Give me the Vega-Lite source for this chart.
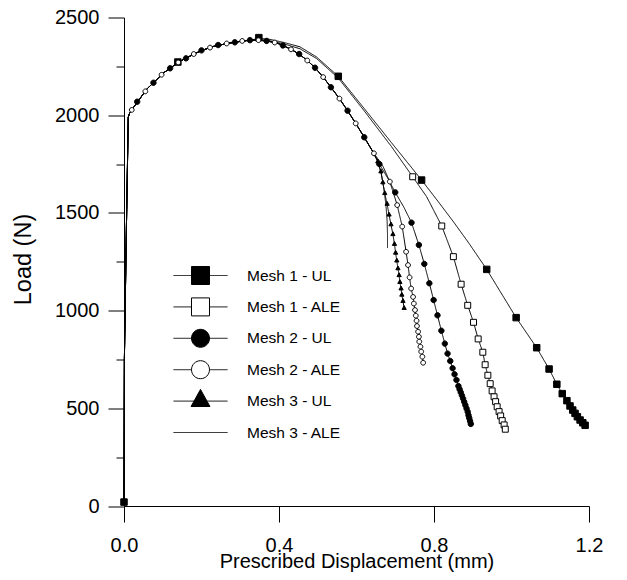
{
  "$schema": "https://vega.github.io/schema/vega-lite/v6.json",
  "width": 465,
  "height": 488.5,
  "autosize": {"type": "none"},
  "padding": {"left": 124, "top": 17.5, "right": 38, "bottom": 74},
  "background": "white",
  "config": {
    "view": {"stroke": null},
    "font": "Liberation Sans",
    "axis": {
      "grid": false,
      "domainColor": "black",
      "tickColor": "black",
      "labelColor": "black",
      "titleColor": "black",
      "labelFont": "Liberation Sans",
      "titleFont": "Liberation Sans",
      "labelFontSize": 20,
      "titleFontSize": 20,
      "titleFontWeight": "normal",
      "domainWidth": 1,
      "tickWidth": 1,
      "ticks": true,
      "labelFlush": false,
      "labelOverlap": false
    },
    "legend": {
      "labelFont": "Liberation Sans",
      "labelFontSize": 15.5,
      "labelColor": "black",
      "padding": 0
    }
  },
  "resolve": {"axis": {"y": "independent"}},
  "datasets": {
    "lines": [
      {"s":"Mesh 1 - UL","x":0,"y":20},{"s":"Mesh 1 - UL","x":0.001,"y":750},{"s":"Mesh 1 - UL","x":0.006,"y":1400},{"s":"Mesh 1 - UL","x":0.011,"y":1990},{"s":"Mesh 1 - UL","x":0.014,"y":2008},{"s":"Mesh 1 - UL","x":0.02,"y":2027},{"s":"Mesh 1 - UL","x":0.037,"y":2074},{"s":"Mesh 1 - UL","x":0.06,"y":2136},{"s":"Mesh 1 - UL","x":0.078,"y":2170},{"s":"Mesh 1 - UL","x":0.103,"y":2218},{"s":"Mesh 1 - UL","x":0.119,"y":2240},{"s":"Mesh 1 - UL","x":0.139,"y":2270},{"s":"Mesh 1 - UL","x":0.162,"y":2294},{"s":"Mesh 1 - UL","x":0.188,"y":2320},{"s":"Mesh 1 - UL","x":0.209,"y":2337},{"s":"Mesh 1 - UL","x":0.231,"y":2352},{"s":"Mesh 1 - UL","x":0.269,"y":2368},{"s":"Mesh 1 - UL","x":0.291,"y":2375},{"s":"Mesh 1 - UL","x":0.317,"y":2382},{"s":"Mesh 1 - UL","x":0.348,"y":2392},{"s":"Mesh 1 - UL","x":0.372,"y":2390},{"s":"Mesh 1 - UL","x":0.411,"y":2373},{"s":"Mesh 1 - UL","x":0.454,"y":2350},{"s":"Mesh 1 - UL","x":0.497,"y":2298},{"s":"Mesh 1 - UL","x":0.553,"y":2199},{"s":"Mesh 1 - UL","x":0.62,"y":2034},{"s":"Mesh 1 - UL","x":0.69,"y":1860},{"s":"Mesh 1 - UL","x":0.768,"y":1668},{"s":"Mesh 1 - UL","x":0.81,"y":1560},{"s":"Mesh 1 - UL","x":0.85,"y":1455},{"s":"Mesh 1 - UL","x":0.89,"y":1345},{"s":"Mesh 1 - UL","x":0.936,"y":1211},{"s":"Mesh 1 - UL","x":1.012,"y":964},{"s":"Mesh 1 - UL","x":1.065,"y":810},{"s":"Mesh 1 - UL","x":1.097,"y":701},{"s":"Mesh 1 - UL","x":1.117,"y":623},{"s":"Mesh 1 - UL","x":1.131,"y":575},{"s":"Mesh 1 - UL","x":1.143,"y":539},{"s":"Mesh 1 - UL","x":1.151,"y":512},{"s":"Mesh 1 - UL","x":1.158,"y":491},{"s":"Mesh 1 - UL","x":1.164,"y":474},{"s":"Mesh 1 - UL","x":1.17,"y":457},{"s":"Mesh 1 - UL","x":1.177,"y":440},{"s":"Mesh 1 - UL","x":1.184,"y":426},{"s":"Mesh 1 - UL","x":1.19,"y":413},

      {"s":"Mesh 1 - ALE","x":0,"y":20},{"s":"Mesh 1 - ALE","x":0.001,"y":750},{"s":"Mesh 1 - ALE","x":0.006,"y":1400},{"s":"Mesh 1 - ALE","x":0.011,"y":1990},{"s":"Mesh 1 - ALE","x":0.014,"y":2008},{"s":"Mesh 1 - ALE","x":0.02,"y":2027},{"s":"Mesh 1 - ALE","x":0.037,"y":2074},{"s":"Mesh 1 - ALE","x":0.06,"y":2136},{"s":"Mesh 1 - ALE","x":0.078,"y":2170},{"s":"Mesh 1 - ALE","x":0.103,"y":2218},{"s":"Mesh 1 - ALE","x":0.119,"y":2240},{"s":"Mesh 1 - ALE","x":0.139,"y":2270},{"s":"Mesh 1 - ALE","x":0.162,"y":2294},{"s":"Mesh 1 - ALE","x":0.188,"y":2320},{"s":"Mesh 1 - ALE","x":0.209,"y":2337},{"s":"Mesh 1 - ALE","x":0.231,"y":2352},{"s":"Mesh 1 - ALE","x":0.269,"y":2368},{"s":"Mesh 1 - ALE","x":0.291,"y":2375},{"s":"Mesh 1 - ALE","x":0.317,"y":2382},{"s":"Mesh 1 - ALE","x":0.34,"y":2386},{"s":"Mesh 1 - ALE","x":0.368,"y":2384},{"s":"Mesh 1 - ALE","x":0.411,"y":2366},{"s":"Mesh 1 - ALE","x":0.454,"y":2340},{"s":"Mesh 1 - ALE","x":0.497,"y":2290},{"s":"Mesh 1 - ALE","x":0.553,"y":2190},{"s":"Mesh 1 - ALE","x":0.62,"y":2022},{"s":"Mesh 1 - ALE","x":0.69,"y":1840},{"s":"Mesh 1 - ALE","x":0.745,"y":1685},{"s":"Mesh 1 - ALE","x":0.781,"y":1583},{"s":"Mesh 1 - ALE","x":0.82,"y":1433},{"s":"Mesh 1 - ALE","x":0.85,"y":1276},{"s":"Mesh 1 - ALE","x":0.87,"y":1135},{"s":"Mesh 1 - ALE","x":0.887,"y":1027},{"s":"Mesh 1 - ALE","x":0.902,"y":940},{"s":"Mesh 1 - ALE","x":0.914,"y":855},{"s":"Mesh 1 - ALE","x":0.926,"y":787},{"s":"Mesh 1 - ALE","x":0.932,"y":723},{"s":"Mesh 1 - ALE","x":0.939,"y":669},{"s":"Mesh 1 - ALE","x":0.945,"y":626},{"s":"Mesh 1 - ALE","x":0.95,"y":589},{"s":"Mesh 1 - ALE","x":0.955,"y":559},{"s":"Mesh 1 - ALE","x":0.959,"y":534},{"s":"Mesh 1 - ALE","x":0.963,"y":508},{"s":"Mesh 1 - ALE","x":0.968,"y":483},{"s":"Mesh 1 - ALE","x":0.972,"y":461},{"s":"Mesh 1 - ALE","x":0.976,"y":437},{"s":"Mesh 1 - ALE","x":0.981,"y":415},{"s":"Mesh 1 - ALE","x":0.984,"y":393},

      {"s":"Mesh 2 - UL","x":0,"y":20},{"s":"Mesh 2 - UL","x":0.001,"y":750},{"s":"Mesh 2 - UL","x":0.006,"y":1400},{"s":"Mesh 2 - UL","x":0.011,"y":1990},{"s":"Mesh 2 - UL","x":0.014,"y":2008},{"s":"Mesh 2 - UL","x":0.02,"y":2027},{"s":"Mesh 2 - UL","x":0.037,"y":2074},{"s":"Mesh 2 - UL","x":0.06,"y":2136},{"s":"Mesh 2 - UL","x":0.078,"y":2170},{"s":"Mesh 2 - UL","x":0.103,"y":2218},{"s":"Mesh 2 - UL","x":0.119,"y":2240},{"s":"Mesh 2 - UL","x":0.139,"y":2270},{"s":"Mesh 2 - UL","x":0.162,"y":2294},{"s":"Mesh 2 - UL","x":0.188,"y":2320},{"s":"Mesh 2 - UL","x":0.209,"y":2337},{"s":"Mesh 2 - UL","x":0.231,"y":2352},{"s":"Mesh 2 - UL","x":0.269,"y":2368},{"s":"Mesh 2 - UL","x":0.291,"y":2375},{"s":"Mesh 2 - UL","x":0.317,"y":2382},{"s":"Mesh 2 - UL","x":0.34,"y":2385},{"s":"Mesh 2 - UL","x":0.368,"y":2380},{"s":"Mesh 2 - UL","x":0.394,"y":2370},{"s":"Mesh 2 - UL","x":0.41,"y":2357},{"s":"Mesh 2 - UL","x":0.431,"y":2337},{"s":"Mesh 2 - UL","x":0.452,"y":2313},{"s":"Mesh 2 - UL","x":0.473,"y":2280},{"s":"Mesh 2 - UL","x":0.493,"y":2243},{"s":"Mesh 2 - UL","x":0.514,"y":2195},{"s":"Mesh 2 - UL","x":0.534,"y":2143},{"s":"Mesh 2 - UL","x":0.556,"y":2085},{"s":"Mesh 2 - UL","x":0.577,"y":2023},{"s":"Mesh 2 - UL","x":0.598,"y":1958},{"s":"Mesh 2 - UL","x":0.62,"y":1887},{"s":"Mesh 2 - UL","x":0.643,"y":1810},{"s":"Mesh 2 - UL","x":0.659,"y":1750},{"s":"Mesh 2 - UL","x":0.68,"y":1680},{"s":"Mesh 2 - UL","x":0.7,"y":1605},{"s":"Mesh 2 - UL","x":0.722,"y":1530},{"s":"Mesh 2 - UL","x":0.742,"y":1450},{"s":"Mesh 2 - UL","x":0.761,"y":1336},{"s":"Mesh 2 - UL","x":0.775,"y":1239},{"s":"Mesh 2 - UL","x":0.788,"y":1140},{"s":"Mesh 2 - UL","x":0.799,"y":1054},{"s":"Mesh 2 - UL","x":0.809,"y":976},{"s":"Mesh 2 - UL","x":0.819,"y":897},{"s":"Mesh 2 - UL","x":0.828,"y":831},{"s":"Mesh 2 - UL","x":0.835,"y":780},{"s":"Mesh 2 - UL","x":0.842,"y":742},{"s":"Mesh 2 - UL","x":0.848,"y":705},{"s":"Mesh 2 - UL","x":0.853,"y":674},{"s":"Mesh 2 - UL","x":0.858,"y":645},{"s":"Mesh 2 - UL","x":0.863,"y":614},{"s":"Mesh 2 - UL","x":0.866,"y":598},{"s":"Mesh 2 - UL","x":0.869,"y":582},{"s":"Mesh 2 - UL","x":0.872,"y":566},{"s":"Mesh 2 - UL","x":0.875,"y":550},{"s":"Mesh 2 - UL","x":0.878,"y":533},{"s":"Mesh 2 - UL","x":0.881,"y":516},{"s":"Mesh 2 - UL","x":0.884,"y":499},{"s":"Mesh 2 - UL","x":0.887,"y":482},{"s":"Mesh 2 - UL","x":0.889,"y":465},{"s":"Mesh 2 - UL","x":0.891,"y":450},{"s":"Mesh 2 - UL","x":0.893,"y":435},{"s":"Mesh 2 - UL","x":0.895,"y":420},

      {"s":"Mesh 2 - ALE","x":0,"y":20},{"s":"Mesh 2 - ALE","x":0.001,"y":750},{"s":"Mesh 2 - ALE","x":0.006,"y":1400},{"s":"Mesh 2 - ALE","x":0.011,"y":1990},{"s":"Mesh 2 - ALE","x":0.014,"y":2008},{"s":"Mesh 2 - ALE","x":0.02,"y":2027},{"s":"Mesh 2 - ALE","x":0.037,"y":2074},{"s":"Mesh 2 - ALE","x":0.06,"y":2136},{"s":"Mesh 2 - ALE","x":0.078,"y":2170},{"s":"Mesh 2 - ALE","x":0.103,"y":2218},{"s":"Mesh 2 - ALE","x":0.119,"y":2240},{"s":"Mesh 2 - ALE","x":0.139,"y":2270},{"s":"Mesh 2 - ALE","x":0.162,"y":2294},{"s":"Mesh 2 - ALE","x":0.188,"y":2320},{"s":"Mesh 2 - ALE","x":0.209,"y":2337},{"s":"Mesh 2 - ALE","x":0.231,"y":2352},{"s":"Mesh 2 - ALE","x":0.269,"y":2368},{"s":"Mesh 2 - ALE","x":0.291,"y":2375},{"s":"Mesh 2 - ALE","x":0.317,"y":2382},{"s":"Mesh 2 - ALE","x":0.34,"y":2385},{"s":"Mesh 2 - ALE","x":0.368,"y":2380},{"s":"Mesh 2 - ALE","x":0.394,"y":2370},{"s":"Mesh 2 - ALE","x":0.41,"y":2357},{"s":"Mesh 2 - ALE","x":0.431,"y":2337},{"s":"Mesh 2 - ALE","x":0.452,"y":2313},{"s":"Mesh 2 - ALE","x":0.473,"y":2280},{"s":"Mesh 2 - ALE","x":0.493,"y":2243},{"s":"Mesh 2 - ALE","x":0.514,"y":2195},{"s":"Mesh 2 - ALE","x":0.534,"y":2143},{"s":"Mesh 2 - ALE","x":0.556,"y":2085},{"s":"Mesh 2 - ALE","x":0.577,"y":2023},{"s":"Mesh 2 - ALE","x":0.598,"y":1958},{"s":"Mesh 2 - ALE","x":0.62,"y":1887},{"s":"Mesh 2 - ALE","x":0.645,"y":1805},{"s":"Mesh 2 - ALE","x":0.668,"y":1740},{"s":"Mesh 2 - ALE","x":0.686,"y":1660},{"s":"Mesh 2 - ALE","x":0.705,"y":1540},{"s":"Mesh 2 - ALE","x":0.718,"y":1430},{"s":"Mesh 2 - ALE","x":0.728,"y":1301},{"s":"Mesh 2 - ALE","x":0.733,"y":1233},{"s":"Mesh 2 - ALE","x":0.737,"y":1170},{"s":"Mesh 2 - ALE","x":0.741,"y":1113},{"s":"Mesh 2 - ALE","x":0.746,"y":1070},{"s":"Mesh 2 - ALE","x":0.748,"y":1036},{"s":"Mesh 2 - ALE","x":0.751,"y":1003},{"s":"Mesh 2 - ALE","x":0.753,"y":974},{"s":"Mesh 2 - ALE","x":0.755,"y":948},{"s":"Mesh 2 - ALE","x":0.756,"y":921},{"s":"Mesh 2 - ALE","x":0.759,"y":892},{"s":"Mesh 2 - ALE","x":0.761,"y":866},{"s":"Mesh 2 - ALE","x":0.762,"y":841},{"s":"Mesh 2 - ALE","x":0.765,"y":815},{"s":"Mesh 2 - ALE","x":0.767,"y":790},{"s":"Mesh 2 - ALE","x":0.77,"y":764},{"s":"Mesh 2 - ALE","x":0.772,"y":733},

      {"s":"Mesh 3 - UL","x":0,"y":20},{"s":"Mesh 3 - UL","x":0.001,"y":750},{"s":"Mesh 3 - UL","x":0.006,"y":1400},{"s":"Mesh 3 - UL","x":0.011,"y":1990},{"s":"Mesh 3 - UL","x":0.014,"y":2008},{"s":"Mesh 3 - UL","x":0.02,"y":2027},{"s":"Mesh 3 - UL","x":0.037,"y":2074},{"s":"Mesh 3 - UL","x":0.06,"y":2136},{"s":"Mesh 3 - UL","x":0.078,"y":2170},{"s":"Mesh 3 - UL","x":0.103,"y":2218},{"s":"Mesh 3 - UL","x":0.119,"y":2240},{"s":"Mesh 3 - UL","x":0.139,"y":2270},{"s":"Mesh 3 - UL","x":0.162,"y":2294},{"s":"Mesh 3 - UL","x":0.188,"y":2320},{"s":"Mesh 3 - UL","x":0.209,"y":2337},{"s":"Mesh 3 - UL","x":0.231,"y":2352},{"s":"Mesh 3 - UL","x":0.269,"y":2368},{"s":"Mesh 3 - UL","x":0.291,"y":2375},{"s":"Mesh 3 - UL","x":0.317,"y":2382},{"s":"Mesh 3 - UL","x":0.34,"y":2385},{"s":"Mesh 3 - UL","x":0.368,"y":2380},{"s":"Mesh 3 - UL","x":0.394,"y":2370},{"s":"Mesh 3 - UL","x":0.41,"y":2357},{"s":"Mesh 3 - UL","x":0.431,"y":2337},{"s":"Mesh 3 - UL","x":0.452,"y":2313},{"s":"Mesh 3 - UL","x":0.473,"y":2280},{"s":"Mesh 3 - UL","x":0.493,"y":2243},{"s":"Mesh 3 - UL","x":0.514,"y":2195},{"s":"Mesh 3 - UL","x":0.534,"y":2143},{"s":"Mesh 3 - UL","x":0.556,"y":2085},{"s":"Mesh 3 - UL","x":0.577,"y":2023},{"s":"Mesh 3 - UL","x":0.598,"y":1958},{"s":"Mesh 3 - UL","x":0.62,"y":1887},{"s":"Mesh 3 - UL","x":0.643,"y":1810},{"s":"Mesh 3 - UL","x":0.655,"y":1762},{"s":"Mesh 3 - UL","x":0.663,"y":1711},{"s":"Mesh 3 - UL","x":0.668,"y":1655},{"s":"Mesh 3 - UL","x":0.673,"y":1600},{"s":"Mesh 3 - UL","x":0.679,"y":1545},{"s":"Mesh 3 - UL","x":0.684,"y":1490},{"s":"Mesh 3 - UL","x":0.689,"y":1440},{"s":"Mesh 3 - UL","x":0.694,"y":1390},{"s":"Mesh 3 - UL","x":0.698,"y":1340},{"s":"Mesh 3 - UL","x":0.701,"y":1295},{"s":"Mesh 3 - UL","x":0.704,"y":1255},{"s":"Mesh 3 - UL","x":0.707,"y":1215},{"s":"Mesh 3 - UL","x":0.71,"y":1180},{"s":"Mesh 3 - UL","x":0.712,"y":1145},{"s":"Mesh 3 - UL","x":0.715,"y":1112},{"s":"Mesh 3 - UL","x":0.717,"y":1080},{"s":"Mesh 3 - UL","x":0.72,"y":1048},{"s":"Mesh 3 - UL","x":0.723,"y":1012},

      {"s":"Mesh 3 - ALE","x":0,"y":20},{"s":"Mesh 3 - ALE","x":0.001,"y":750},{"s":"Mesh 3 - ALE","x":0.006,"y":1400},{"s":"Mesh 3 - ALE","x":0.011,"y":1990},{"s":"Mesh 3 - ALE","x":0.014,"y":2008},{"s":"Mesh 3 - ALE","x":0.02,"y":2027},{"s":"Mesh 3 - ALE","x":0.037,"y":2074},{"s":"Mesh 3 - ALE","x":0.06,"y":2136},{"s":"Mesh 3 - ALE","x":0.078,"y":2170},{"s":"Mesh 3 - ALE","x":0.103,"y":2218},{"s":"Mesh 3 - ALE","x":0.119,"y":2240},{"s":"Mesh 3 - ALE","x":0.139,"y":2270},{"s":"Mesh 3 - ALE","x":0.162,"y":2294},{"s":"Mesh 3 - ALE","x":0.188,"y":2320},{"s":"Mesh 3 - ALE","x":0.209,"y":2337},{"s":"Mesh 3 - ALE","x":0.231,"y":2352},{"s":"Mesh 3 - ALE","x":0.269,"y":2368},{"s":"Mesh 3 - ALE","x":0.291,"y":2375},{"s":"Mesh 3 - ALE","x":0.317,"y":2382},{"s":"Mesh 3 - ALE","x":0.34,"y":2385},{"s":"Mesh 3 - ALE","x":0.368,"y":2380},{"s":"Mesh 3 - ALE","x":0.394,"y":2370},{"s":"Mesh 3 - ALE","x":0.41,"y":2357},{"s":"Mesh 3 - ALE","x":0.431,"y":2337},{"s":"Mesh 3 - ALE","x":0.452,"y":2313},{"s":"Mesh 3 - ALE","x":0.473,"y":2280},{"s":"Mesh 3 - ALE","x":0.493,"y":2243},{"s":"Mesh 3 - ALE","x":0.514,"y":2195},{"s":"Mesh 3 - ALE","x":0.534,"y":2143},{"s":"Mesh 3 - ALE","x":0.556,"y":2085},{"s":"Mesh 3 - ALE","x":0.577,"y":2023},{"s":"Mesh 3 - ALE","x":0.598,"y":1958},{"s":"Mesh 3 - ALE","x":0.62,"y":1887},{"s":"Mesh 3 - ALE","x":0.643,"y":1810},{"s":"Mesh 3 - ALE","x":0.655,"y":1765},{"s":"Mesh 3 - ALE","x":0.664,"y":1700},{"s":"Mesh 3 - ALE","x":0.671,"y":1620},{"s":"Mesh 3 - ALE","x":0.676,"y":1540},{"s":"Mesh 3 - ALE","x":0.679,"y":1460},{"s":"Mesh 3 - ALE","x":0.68,"y":1390},{"s":"Mesh 3 - ALE","x":0.68,"y":1320}
    ],
    "markers": [
      {"s":"Mesh 1 - UL","x":0,"y":20},{"s":"Mesh 1 - UL","x":0.139,"y":2272},{"s":"Mesh 1 - UL","x":0.348,"y":2397},{"s":"Mesh 1 - UL","x":0.553,"y":2199},{"s":"Mesh 1 - UL","x":0.768,"y":1668},{"s":"Mesh 1 - UL","x":0.936,"y":1211},{"s":"Mesh 1 - UL","x":1.012,"y":964},{"s":"Mesh 1 - UL","x":1.065,"y":810},{"s":"Mesh 1 - UL","x":1.097,"y":701},{"s":"Mesh 1 - UL","x":1.117,"y":623},{"s":"Mesh 1 - UL","x":1.131,"y":575},{"s":"Mesh 1 - UL","x":1.143,"y":539},{"s":"Mesh 1 - UL","x":1.151,"y":512},{"s":"Mesh 1 - UL","x":1.158,"y":491},{"s":"Mesh 1 - UL","x":1.164,"y":474},{"s":"Mesh 1 - UL","x":1.17,"y":457},{"s":"Mesh 1 - UL","x":1.177,"y":440},{"s":"Mesh 1 - UL","x":1.184,"y":426},{"s":"Mesh 1 - UL","x":1.19,"y":413},

      {"s":"Mesh 1 - ALE","x":0.745,"y":1685},{"s":"Mesh 1 - ALE","x":0.82,"y":1433},{"s":"Mesh 1 - ALE","x":0.85,"y":1276},{"s":"Mesh 1 - ALE","x":0.87,"y":1135},{"s":"Mesh 1 - ALE","x":0.887,"y":1027},{"s":"Mesh 1 - ALE","x":0.902,"y":940},{"s":"Mesh 1 - ALE","x":0.914,"y":855},{"s":"Mesh 1 - ALE","x":0.926,"y":787},{"s":"Mesh 1 - ALE","x":0.932,"y":723},{"s":"Mesh 1 - ALE","x":0.939,"y":669},{"s":"Mesh 1 - ALE","x":0.945,"y":626},{"s":"Mesh 1 - ALE","x":0.95,"y":589},{"s":"Mesh 1 - ALE","x":0.955,"y":559},{"s":"Mesh 1 - ALE","x":0.959,"y":534},{"s":"Mesh 1 - ALE","x":0.963,"y":508},{"s":"Mesh 1 - ALE","x":0.968,"y":483},{"s":"Mesh 1 - ALE","x":0.972,"y":461},{"s":"Mesh 1 - ALE","x":0.976,"y":437},{"s":"Mesh 1 - ALE","x":0.981,"y":415},{"s":"Mesh 1 - ALE","x":0.984,"y":393},

      {"s":"Mesh 2 - UL","x":0.034,"y":2069},{"s":"Mesh 2 - UL","x":0.076,"y":2166},{"s":"Mesh 2 - UL","x":0.119,"y":2240},{"s":"Mesh 2 - UL","x":0.16,"y":2291},{"s":"Mesh 2 - UL","x":0.2,"y":2332},{"s":"Mesh 2 - UL","x":0.243,"y":2359},{"s":"Mesh 2 - UL","x":0.286,"y":2373},{"s":"Mesh 2 - UL","x":0.325,"y":2384},{"s":"Mesh 2 - UL","x":0.368,"y":2380},{"s":"Mesh 2 - UL","x":0.41,"y":2357},{"s":"Mesh 2 - UL","x":0.452,"y":2313},{"s":"Mesh 2 - UL","x":0.493,"y":2243},{"s":"Mesh 2 - UL","x":0.534,"y":2143},{"s":"Mesh 2 - UL","x":0.577,"y":2023},{"s":"Mesh 2 - UL","x":0.62,"y":1887},{"s":"Mesh 2 - UL","x":0.659,"y":1750},{"s":"Mesh 2 - UL","x":0.7,"y":1605},{"s":"Mesh 2 - UL","x":0.742,"y":1450},{"s":"Mesh 2 - UL","x":0.761,"y":1336},{"s":"Mesh 2 - UL","x":0.775,"y":1239},{"s":"Mesh 2 - UL","x":0.788,"y":1140},{"s":"Mesh 2 - UL","x":0.799,"y":1054},{"s":"Mesh 2 - UL","x":0.809,"y":976},{"s":"Mesh 2 - UL","x":0.819,"y":897},{"s":"Mesh 2 - UL","x":0.828,"y":831},{"s":"Mesh 2 - UL","x":0.835,"y":780},{"s":"Mesh 2 - UL","x":0.842,"y":742},{"s":"Mesh 2 - UL","x":0.848,"y":705},{"s":"Mesh 2 - UL","x":0.853,"y":674},{"s":"Mesh 2 - UL","x":0.858,"y":645},{"s":"Mesh 2 - UL","x":0.863,"y":614},{"s":"Mesh 2 - UL","x":0.866,"y":598},{"s":"Mesh 2 - UL","x":0.869,"y":582},{"s":"Mesh 2 - UL","x":0.872,"y":566},{"s":"Mesh 2 - UL","x":0.875,"y":550},{"s":"Mesh 2 - UL","x":0.878,"y":533},{"s":"Mesh 2 - UL","x":0.881,"y":516},{"s":"Mesh 2 - UL","x":0.884,"y":499},{"s":"Mesh 2 - UL","x":0.887,"y":482},{"s":"Mesh 2 - UL","x":0.889,"y":465},{"s":"Mesh 2 - UL","x":0.891,"y":450},{"s":"Mesh 2 - UL","x":0.893,"y":435},{"s":"Mesh 2 - UL","x":0.895,"y":420},

      {"s":"Mesh 2 - ALE","x":0.02,"y":2027},{"s":"Mesh 2 - ALE","x":0.055,"y":2122},{"s":"Mesh 2 - ALE","x":0.097,"y":2207},{"s":"Mesh 2 - ALE","x":0.14,"y":2270},{"s":"Mesh 2 - ALE","x":0.18,"y":2313},{"s":"Mesh 2 - ALE","x":0.222,"y":2346},{"s":"Mesh 2 - ALE","x":0.265,"y":2367},{"s":"Mesh 2 - ALE","x":0.305,"y":2380},{"s":"Mesh 2 - ALE","x":0.347,"y":2384},{"s":"Mesh 2 - ALE","x":0.389,"y":2372},{"s":"Mesh 2 - ALE","x":0.431,"y":2337},{"s":"Mesh 2 - ALE","x":0.473,"y":2280},{"s":"Mesh 2 - ALE","x":0.514,"y":2195},{"s":"Mesh 2 - ALE","x":0.556,"y":2085},{"s":"Mesh 2 - ALE","x":0.598,"y":1958},{"s":"Mesh 2 - ALE","x":0.645,"y":1805},{"s":"Mesh 2 - ALE","x":0.686,"y":1660},{"s":"Mesh 2 - ALE","x":0.705,"y":1540},{"s":"Mesh 2 - ALE","x":0.718,"y":1430},{"s":"Mesh 2 - ALE","x":0.728,"y":1301},{"s":"Mesh 2 - ALE","x":0.733,"y":1233},{"s":"Mesh 2 - ALE","x":0.737,"y":1170},{"s":"Mesh 2 - ALE","x":0.741,"y":1113},{"s":"Mesh 2 - ALE","x":0.746,"y":1070},{"s":"Mesh 2 - ALE","x":0.748,"y":1036},{"s":"Mesh 2 - ALE","x":0.751,"y":1003},{"s":"Mesh 2 - ALE","x":0.753,"y":974},{"s":"Mesh 2 - ALE","x":0.755,"y":948},{"s":"Mesh 2 - ALE","x":0.756,"y":921},{"s":"Mesh 2 - ALE","x":0.759,"y":892},{"s":"Mesh 2 - ALE","x":0.761,"y":866},{"s":"Mesh 2 - ALE","x":0.762,"y":841},{"s":"Mesh 2 - ALE","x":0.765,"y":815},{"s":"Mesh 2 - ALE","x":0.767,"y":790},{"s":"Mesh 2 - ALE","x":0.77,"y":764},{"s":"Mesh 2 - ALE","x":0.772,"y":733},

      {"s":"Mesh 3 - UL","x":0.655,"y":1762},{"s":"Mesh 3 - UL","x":0.663,"y":1711},{"s":"Mesh 3 - UL","x":0.668,"y":1655},{"s":"Mesh 3 - UL","x":0.673,"y":1600},{"s":"Mesh 3 - UL","x":0.679,"y":1545},{"s":"Mesh 3 - UL","x":0.684,"y":1490},{"s":"Mesh 3 - UL","x":0.689,"y":1440},{"s":"Mesh 3 - UL","x":0.694,"y":1390},{"s":"Mesh 3 - UL","x":0.698,"y":1340},{"s":"Mesh 3 - UL","x":0.701,"y":1295},{"s":"Mesh 3 - UL","x":0.704,"y":1255},{"s":"Mesh 3 - UL","x":0.707,"y":1215},{"s":"Mesh 3 - UL","x":0.71,"y":1180},{"s":"Mesh 3 - UL","x":0.712,"y":1145},{"s":"Mesh 3 - UL","x":0.715,"y":1112},{"s":"Mesh 3 - UL","x":0.717,"y":1080},{"s":"Mesh 3 - UL","x":0.72,"y":1048},{"s":"Mesh 3 - UL","x":0.723,"y":1012}
    ]
  },
  "layer": [
    {
      "data": {"name": "lines"},
      "mark": {"type": "line", "color": "black", "strokeWidth": 1},
      "encoding": {
        "x": {
          "field": "x", "type": "quantitative",
          "scale": {"domain": [0, 1.2], "nice": false},
          "axis": {"values": [0, 0.4, 0.8, 1.2], "format": ".1f", "ticks": true, "tickSize": 16, "labelPadding": 29.7, "labelBaseline": "alphabetic", "title": "Prescribed Displacement (mm)", "titleBaseline": "alphabetic", "titleY": 61}
        },
        "y": {
          "field": "y", "type": "quantitative",
          "scale": {"domain": [0, 2500], "nice": false},
          "axis": {
            "orient": "left",
            "values": [0, 500, 1000, 1500, 2000, 2500],
            "format": "d",
            "ticks": true,
            "tickSize": 16,
            "labelPadding": 9,
            "title": "Load (N)",
            "titleFontSize": 23.5,
            "titleAngle": -90,
            "titleBaseline": "alphabetic",
            "titleX": -94,
            "titleY": 241.5
          }
        },
        "detail": {"field": "s"},
        "strokeDash": {
          "field": "s", "type": "nominal",
          "scale": {"domain": ["Mesh 2 - UL", "Mesh 1 - UL", "Mesh 3 - UL", "Mesh 2 - ALE", "Mesh 1 - ALE", "Mesh 3 - ALE"], "range": [[1, 0], [1, 0], [1, 0], [1, 0], [1, 0], [1, 0]]},
          "legend": {
            "title": null,
            "orient": "none",
            "legendX": 67,
            "legendY": 248.5,
            "values": ["Mesh 1 - UL", "Mesh 1 - ALE", "Mesh 2 - UL", "Mesh 2 - ALE", "Mesh 3 - UL", "Mesh 3 - ALE"],
            "symbolType": "M-3,0H3M-3,-1.4L-3,-1.4M3,1.4L3,1.4",
            "symbolSize": 324,
            "symbolStrokeColor": "black",
            "symbolStrokeWidth": 1,
            "symbolFillColor": "transparent",
            "symbolDash": [1, 0],
            "labelOffset": 37,
            "rowPadding": 0.4,
            "labelFontSize": 15.5
          }
        },
        "order": {"value": null}
      }
    },
    {
      "data": {"name": "markers"},
      "mark": {"type": "point", "filled": true, "strokeWidth": 1, "opacity": 1},
      "encoding": {
        "x": {
          "field": "x", "type": "quantitative",
          "axis": {"values": [0, 0.4, 0.8, 1.2], "format": ".1f", "ticks": true, "tickSize": 16, "labelPadding": 29.7, "labelBaseline": "alphabetic", "title": "Prescribed Displacement (mm)", "titleBaseline": "alphabetic", "titleY": 61}
        },
        "y": {
          "field": "y", "type": "quantitative",
          "axis": {"orient": "left", "values": [250, 750, 1250, 1750, 2250], "ticks": true, "tickSize": 8, "labels": false, "domain": false, "title": null}
        },
        "fill": {
          "field": "s", "type": "nominal",
          "scale": {"domain": ["Mesh 1 - UL", "Mesh 1 - ALE", "Mesh 2 - UL", "Mesh 2 - ALE", "Mesh 3 - UL", "Mesh 3 - ALE"], "range": ["black", "white", "black", "white", "black", "white"]},
          "legend": {
            "title": null, "orient": "none", "legendX": 67, "legendY": 248.5,
            "symbolSize": 324, "symbolStrokeWidth": 1, "symbolOpacity": 1,
            "labelOffset": 37, "rowPadding": 0.4, "labelFontSize": 15.5, "labelExpr": "''"
          }
        },
        "stroke": {
          "field": "s", "type": "nominal",
          "scale": {"domain": ["Mesh 1 - UL", "Mesh 1 - ALE", "Mesh 2 - UL", "Mesh 2 - ALE", "Mesh 3 - UL", "Mesh 3 - ALE"], "range": ["black", "black", "black", "black", "black", "black"]},
          "legend": {
            "title": null, "orient": "none", "legendX": 67, "legendY": 248.5,
            "symbolSize": 324, "symbolStrokeWidth": 1, "symbolOpacity": 1,
            "labelOffset": 37, "rowPadding": 0.4, "labelFontSize": 15.5, "labelExpr": "''"
          }
        },
        "shape": {
          "field": "s", "type": "nominal",
          "scale": {"domain": ["Mesh 1 - UL", "Mesh 1 - ALE", "Mesh 2 - UL", "Mesh 2 - ALE", "Mesh 3 - UL", "Mesh 3 - ALE"], "range": [
            "M-1,-1H1V1H-1ZM-3,-1.4L-3,-1.4M3,1.4L3,1.4",
            "M-1,-1H1V1H-1ZM-3,-1.4L-3,-1.4M3,1.4L3,1.4",
            "M1,0A1,1,0,1,1,-1,0A1,1,0,1,1,1,0ZM-3,-1.4L-3,-1.4M3,1.4L3,1.4",
            "M1,0A1,1,0,1,1,-1,0A1,1,0,1,1,1,0ZM-3,-1.4L-3,-1.4M3,1.4L3,1.4",
            "M0,-1.3L1.05,0.6L-1.05,0.6ZM-3,-1.4L-3,-1.4M3,1.4L3,1.4",
            "M-3,-1.4L-3,-1.4M3,1.4L3,1.4"
          ]},
          "legend": {
            "title": null, "orient": "none", "legendX": 67, "legendY": 248.5,
            "symbolSize": 324, "symbolStrokeWidth": 1, "symbolOpacity": 1,
            "labelOffset": 37, "rowPadding": 0.4, "labelFontSize": 15.5, "labelExpr": "''"
          }
        },
        "size": {
          "field": "s", "type": "nominal",
          "scale": {"domain": ["Mesh 3 - ALE", "Mesh 3 - UL", "Mesh 2 - ALE", "Mesh 2 - UL", "Mesh 1 - ALE", "Mesh 1 - UL"], "range": [10, 42, 30, 36, 49, 64]},
          "legend": null
        }
      }
    }
  ]
}
